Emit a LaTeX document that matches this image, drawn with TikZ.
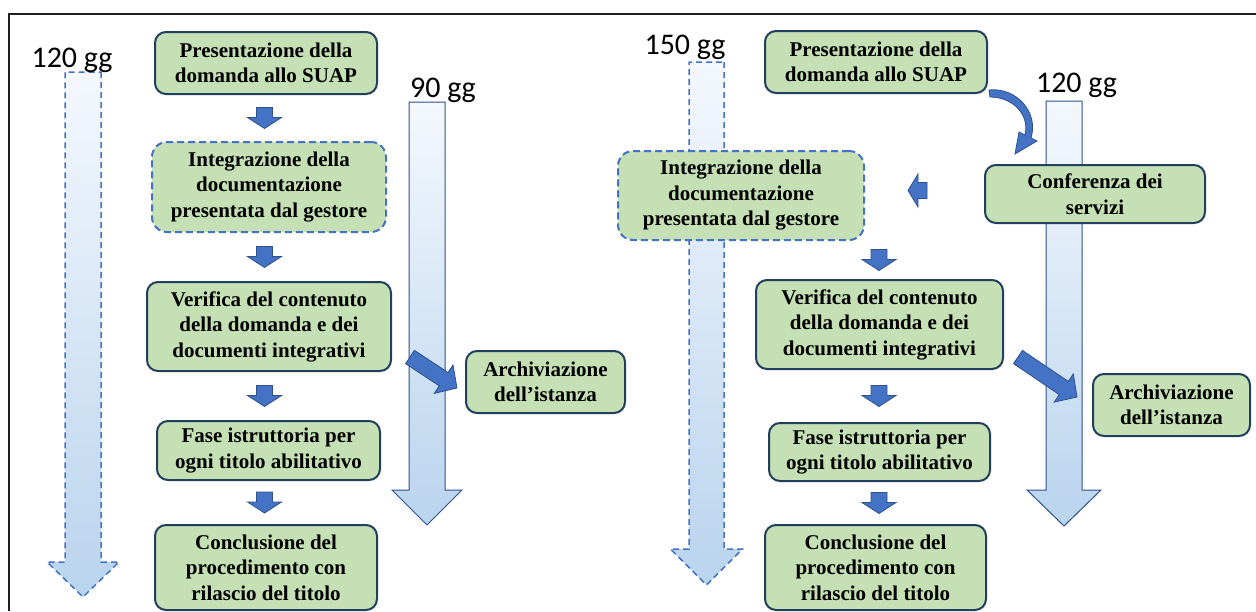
\documentclass[tikz,border=0pt]{standalone}
\usepackage{fontspec}
\setmainfont{Liberation Serif}
\newfontfamily\calfont{Carlito}
\usetikzlibrary{calc}
\definecolor{boxfill}{HTML}{C5E0B4}
\definecolor{boxline}{HTML}{22405E}
\definecolor{accent}{HTML}{4472C4}
\definecolor{accentdark}{HTML}{2F528F}
\definecolor{gradtop}{HTML}{F4F8FD}
\definecolor{gradbot}{HTML}{B9D4EE}
\definecolor{framecol}{HTML}{202020}

% #1 style, #2 tail, #3 tip, #4 shaft half width, #5 head half width, #6 head length
\newcommand\blockarrow[6]{%
  \coordinate (ba-t) at #2;
  \coordinate (ba-h) at #3;
  \coordinate (ba-b) at ($(ba-h)!#6!(ba-t)$);
  \path[#1] ($(ba-t)!#4!90:(ba-h)$) -- ($(ba-b)!#4!90:(ba-h)$) -- ($(ba-b)!#5!90:(ba-h)$)
     -- (ba-h) -- ($(ba-b)!#5!-90:(ba-h)$) -- ($(ba-b)!#4!-90:(ba-h)$) -- ($(ba-t)!#4!-90:(ba-h)$) -- cycle;
}
% down arrow between two nodes, centred at x = #3
\newcommand\dnarrow[3]{%
  \coordinate (da-m) at ($(#1.south)!0.5!(#2.north)$);
  \coordinate (da-x) at (#3,0);
  \blockarrow{barrow}{($(da-x |- da-m)+(0,-10.5)$)}{($(da-x |- da-m)+(0,10.5)$)}{8pt}{17pt}{11pt}
}

\tikzset{
  box/.style={draw=boxline, line width=2pt, fill=boxfill, rounded corners=11pt,
    align=center, inner sep=0pt, font=\bfseries\fontsize{21}{25.5}\selectfont},
  dbox/.style={box, draw=accent, dash pattern=on 7pt off 4pt, rounded corners=15pt},
  lbl/.style={font=\calfont\fontsize{30}{36}\selectfont, anchor=base, inner sep=0pt},
  barrow/.style={fill=accent, draw=accentdark, line width=0.8pt},
  grad/.style={top color=gradtop, bottom color=gradbot, draw=accentdark, line width=1pt},
  dgrad/.style={top color=gradtop, bottom color=gradbot, draw=accent, line width=1.5pt,
    dash pattern=on 6pt off 4pt},
}

\begin{document}
\begin{tikzpicture}[x=1pt, y=-1pt]
\useasboundingbox (0,0) rectangle (1256,611);
\fill[white] (0,0) rectangle (1256,611);
\draw[framecol, line width=2pt] (9,611) -- (9,14) -- (1256,14);

% timeline arrows
\blockarrow{dgrad}{(83,72)}{(83,597)}{18pt}{36pt}{35pt}
\blockarrow{grad}{(427,102)}{(427,525)}{18pt}{35pt}{35pt}
\blockarrow{dgrad}{(706.5,62)}{(706.5,585)}{17.5pt}{36pt}{36pt}
\blockarrow{grad}{(1064,101)}{(1064,526)}{18pt}{37pt}{36pt}

% labels
\node[lbl] (g120a) at (72,67) {120 gg};
\node[lbl] (g90)   at (443,97) {90 gg};
\node[lbl] (g150)  at (685,54) {150 gg};
\node[lbl] (g120b) at (1076.5,92) {120 gg};

% left column
\node[box,  minimum width=222pt, minimum height=62pt] (L1) at (266,63) {Presentazione della\\domanda allo SUAP};
\node[dbox, minimum width=234pt, minimum height=90pt] (L2) at (269,187) {Integrazione della\\documentazione\\presentata dal gestore};
\node[box,  minimum width=244pt, minimum height=89pt] (L3) at (269,326.5) {Verifica del contenuto\\della domanda e dei\\documenti integrativi};
\node[box,  minimum width=223pt, minimum height=59pt] (L4) at (268.5,450.5) {Fase istruttoria per\\ogni titolo abilitativo};
\node[box,  minimum width=222pt, minimum height=85pt] (L5) at (266,567.5) {Conclusione del\\procedimento con\\rilascio del titolo};
\node[box,  minimum width=159pt, minimum height=62pt] (LA) at (545.5,382) {Archiviazione\\dell’istanza};

% right column
\node[box,  minimum width=222pt, minimum height=62pt] (R1) at (876,62) {Presentazione della\\domanda allo SUAP};
\node[dbox, minimum width=246pt, minimum height=89pt] (R2) at (741,195.5) {Integrazione della\\documentazione\\presentata dal gestore};
\node[box,  minimum width=220pt, minimum height=58pt] (R3) at (1095,194) {Conferenza dei\\servizi};
\node[box,  minimum width=247pt, minimum height=89pt] (R4) at (879.5,324.5) {Verifica del contenuto\\della domanda e dei\\documenti integrativi};
\node[box,  minimum width=221pt, minimum height=58pt] (R5) at (879.5,452) {Fase istruttoria per\\ogni titolo abilitativo};
\node[box,  minimum width=221pt, minimum height=85pt] (R6) at (875.5,567.5) {Conclusione del\\procedimento con\\rilascio del titolo};
\node[box,  minimum width=157pt, minimum height=62pt] (RA) at (1171.5,405) {Archiviazione\\dell’istanza};

% down arrows
\dnarrow{L1}{L2}{264.5}
\dnarrow{L2}{L3}{264.5}
\dnarrow{L3}{L4}{264.5}
\dnarrow{L4}{L5}{264.5}
\dnarrow{R2}{R4}{879}
\dnarrow{R4}{R5}{879}
\dnarrow{R5}{R6}{879}

% diagonal arrows to archiviazione
\blockarrow{barrow}{($(L3.east)+(18,30.5)$)}{($(LA.west)+(-8,6)$)}{8pt}{17pt}{16pt}
\blockarrow{barrow}{($(R4.east)+(14,32.5)$)}{($(RA.west)+(-15,-8)$)}{8pt}{17pt}{16pt}

% left arrow conferenza -> integrazione
\blockarrow{barrow}{($(R3.west)+(-57,-3.5)$)}{($(R2.east)+(43,-5)$)}{8pt}{16.5pt}{10pt}

% curved arrow presentazione -> conferenza
\begin{scope}[shift={(R1.south east)}]
\path[barrow] (1,-4) .. controls (28,-7) and (51,18) .. (43,44) -- (49,47) -- (27,60) -- (31,38)
  -- (37,41) .. controls (42,20) and (24,3) .. (2,3) -- cycle;
\end{scope}
\end{tikzpicture}
\end{document}
